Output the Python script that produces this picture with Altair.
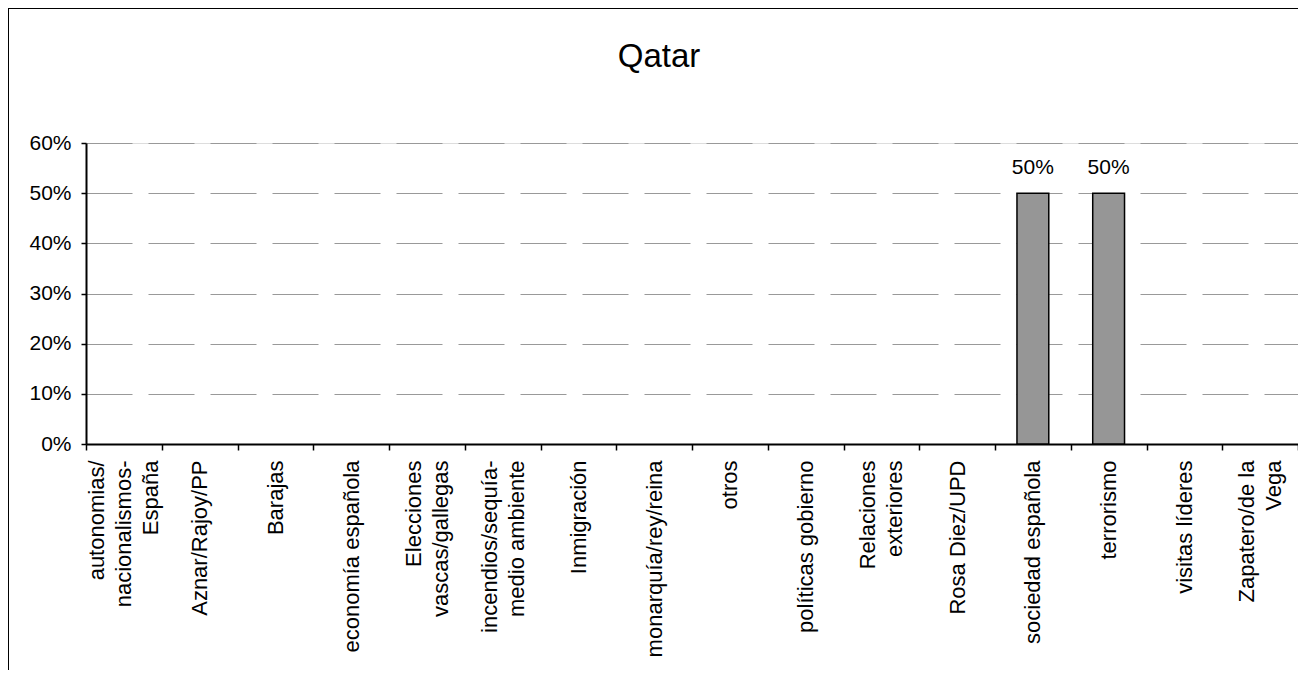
import altair as alt
import pandas as pd

title_text = "Qatar"
categories = [
    "autonomias/|nacionalismos-|España",
    "Aznar/Rajoy/PP",
    "Barajas",
    "economía española",
    "Elecciones|vascas/gallegas",
    "incendios/sequía-|medio ambiente",
    "Inmigración",
    "monarquía/rey/reina",
    "otros",
    "políticas gobierno",
    "Relaciones|exteriores",
    "Rosa Diez/UPD",
    "sociedad española",
    "terrorismo",
    "visitas líderes",
    "Zapatero/de la|Vega",
]
values = [0, 0, 0, 0, 0, 0, 0, 0, 0, 0, 0, 0, 0.5, 0.5, 0, 0]
y_ticks = [0, 0.1, 0.2, 0.3, 0.4, 0.5, 0.6]

df = pd.DataFrame({"cat": categories, "val": values})
tdf = pd.DataFrame({"t": [title_text]})

FONT = "Liberation Sans"
W, H = 1212, 301
LH = 27

x_enc = alt.X(
    "cat:N",
    sort=categories,
    scale=alt.Scale(paddingInner=0, paddingOuter=0),
    axis=alt.Axis(
        title=None,
        labelExpr="split(datum.label, '|')",
        labelAngle=270,
        labelAlign="right",
        labelBaseline="middle",
        labelFont=FONT,
        labelFontSize=22,
        labelLineHeight=LH,
        labelColor="black",
        labelPadding=10,
        labelLimit=400,
        labelOffset={
            "condition": [
                {"test": "length(split(datum.value, '|')) == 3", "value": -LH},
                {"test": "length(split(datum.value, '|')) == 2", "value": -LH / 2},
            ],
            "value": 0,
        },
        tickBand="extent",
        tickSize=6,
        tickColor="black",
        tickWidth=1.5,
        domainColor="black",
        domainWidth=2,
        grid=False,
    ),
)
y_enc = alt.Y(
    "val:Q",
    scale=alt.Scale(domain=[0, 0.6], nice=False),
    axis=alt.Axis(
        title=None,
        values=y_ticks,
        format=".0%",
        labelFont=FONT,
        labelFontSize=21,
        labelColor="black",
        labelPadding=10,
        tickSize=5,
        tickColor="black",
        tickWidth=1.5,
        domainColor="black",
        domainWidth=2,
        grid=True,
        gridColor="#999999",
        gridWidth=1,
        gridDash=[46, 16],
    ),
)

base = alt.Chart(df)

bars = base.transform_filter("datum.val > 0").mark_bar(
    width={"band": 0.42}, fill="#969696", stroke="black", strokeWidth=1.5
).encode(x=x_enc, y=y_enc)

# invisible layer to keep all categories on the axis
axis_holder = base.mark_point(opacity=0).encode(x=x_enc, y=y_enc)

labels = base.transform_filter("datum.val > 0").mark_text(
    font=FONT, fontSize=21, color="black", baseline="alphabetic", dy=-19
).encode(
    x=alt.X("cat:N", sort=categories),
    y=alt.Y("val:Q"),
    text=alt.Text("val:Q", format=".0%"),
)

title = alt.Chart(tdf).mark_text(
    font=FONT, fontSize=33, color="black", align="center", baseline="alphabetic"
).encode(x=alt.value(573), y=alt.value(-76), text="t:N")

frame_left = alt.Chart(tdf).mark_rule(color="black", strokeWidth=1).encode(
    x=alt.value(-77.5), y=alt.value(-134.5), y2=alt.value(600)
)
frame_top = alt.Chart(tdf).mark_rule(color="black", strokeWidth=1).encode(
    x=alt.value(-78), x2=alt.value(1300), y=alt.value(-134.5)
)

chart = alt.layer(axis_holder, bars, labels, title, frame_left, frame_top).properties(
    width=W,
    height=H,
    autosize=alt.AutoSizeParams(type="none"),
    padding={"left": 78, "top": 135, "right": 0, "bottom": 226},
).configure_view(stroke="#888888", strokeWidth=2).configure(background="white")

chart.save("out.html", embed_options={"renderer": "svg", "actions": False})
